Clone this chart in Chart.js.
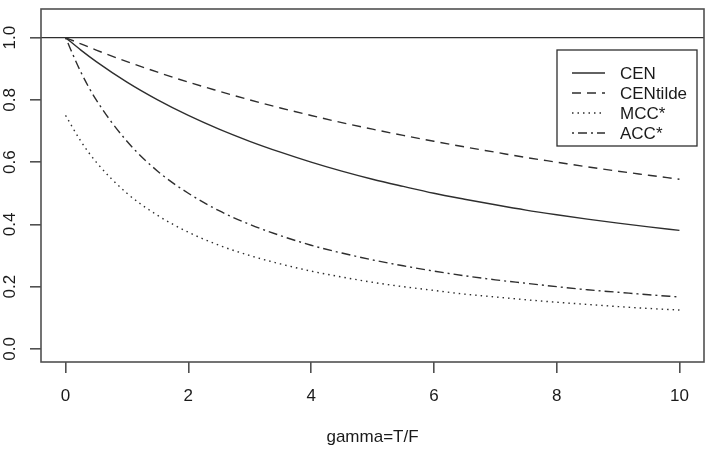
<!DOCTYPE html>
<html>
<head>
<meta charset="utf-8">
<script src="https://cdn.jsdelivr.net/npm/chart.js@4"></script>
<style>
  html, body { margin: 0; padding: 0; background: #fff; }
  #wrap { width: 714px; height: 454px; }
</style>
</head>
<body>
<div id="wrap"><canvas id="chart" width="714" height="454"></canvas></div>
<script>
// values
const gamma     = [0, 0.25, 0.5, 1, 1.5, 2, 2.5, 3, 3.5, 4, 4.5, 5, 5.5, 6, 6.5, 7, 7.5, 8, 8.5, 9, 9.5, 10];
const cen       = [1, 0.96, 0.923, 0.857, 0.8, 0.75, 0.706, 0.667, 0.632, 0.6, 0.571, 0.545, 0.522, 0.5, 0.481, 0.463, 0.446, 0.431, 0.417, 0.404, 0.392, 0.381];
const cenTilde  = [1, 0.98, 0.96, 0.923, 0.889, 0.857, 0.828, 0.8, 0.774, 0.75, 0.727, 0.706, 0.686, 0.667, 0.649, 0.632, 0.615, 0.6, 0.585, 0.571, 0.558, 0.545];
const mccStar   = [0.75, 0.667, 0.6, 0.5, 0.429, 0.375, 0.333, 0.3, 0.273, 0.25, 0.231, 0.214, 0.2, 0.188, 0.176, 0.167, 0.158, 0.15, 0.143, 0.136, 0.13, 0.125];
const accStar   = [1, 0.889, 0.8, 0.667, 0.571, 0.5, 0.444, 0.4, 0.364, 0.333, 0.308, 0.286, 0.267, 0.25, 0.235, 0.222, 0.211, 0.2, 0.19, 0.182, 0.174, 0.167];
const xTicks    = [0, 2, 4, 6, 8, 10];
const yTicks    = [0, 0.2, 0.4, 0.6, 0.8, 1.0];
const refLine   = 1;

const FONT = '"Liberation Sans", Arial, Helvetica, sans-serif';
const INK = '#2e2e2e';
const AXIS = '#505050';
const TEXT = '#1a1a1a';

function pts(ys) {
    return gamma.map((g, i) => ({ x: g, y: ys[i] }));
}

function series(label, ys, dash) {
    return {
        label: label,
        data: pts(ys),
        borderColor: INK,
        borderWidth: 1.4,
        borderDash: dash,
        pointRadius: 0,
        fill: false,
        cubicInterpolationMode: 'monotone'
    };
}

// box, abline at y=1, rotated y labels and the legend, R style
const rPlot = {
    id: 'rPlot',
    afterDatasetsDraw(chart) {
        const ctx = chart.ctx;
        const a = chart.chartArea;
        const ys = chart.scales.y;

        ctx.save();
        // horizontal reference line
        const yl = ys.getPixelForValue(refLine);
        ctx.strokeStyle = INK;
        ctx.lineWidth = 1.4;
        ctx.beginPath();
        ctx.moveTo(a.left, yl);
        ctx.lineTo(a.right, yl);
        ctx.stroke();

        // plot box
        ctx.strokeStyle = AXIS;
        ctx.lineWidth = 1.6;
        ctx.strokeRect(a.left, a.top, a.right - a.left, a.bottom - a.top);

        // y tick labels, rotated like R's las=0
        ctx.fillStyle = TEXT;
        ctx.font = '17px ' + FONT;
        ctx.textAlign = 'center';
        ctx.textBaseline = 'middle';
        yTicks.forEach(v => {
            const y = ys.getPixelForValue(v);
            ctx.save();
            ctx.translate(10, y);
            ctx.rotate(-Math.PI / 2);
            ctx.fillText(v.toFixed(1), 0, 0);
            ctx.restore();
        });

        // legend
        const lx = 557, ly = 50, lw = 140, lh = 96;
        ctx.fillStyle = '#fff';
        ctx.fillRect(lx, ly, lw, lh);
        ctx.strokeStyle = INK;
        ctx.lineWidth = 1.3;
        ctx.strokeRect(lx, ly, lw, lh);
        ctx.textAlign = 'left';
        ctx.fillStyle = TEXT;
        chart.data.datasets.forEach((ds, i) => {
            const y = ly + 23 + i * 20;
            ctx.setLineDash(ds.borderDash || []);
            ctx.beginPath();
            ctx.moveTo(572, y);
            ctx.lineTo(605, y);
            ctx.stroke();
            ctx.setLineDash([]);
            ctx.fillText(ds.label, 620, y + 1);
        });
        ctx.restore();
    }
};

new Chart(document.getElementById('chart'), {
    type: 'line',
    data: {
        datasets: [
            series('CEN', cen, []),
            series('CENtilde', cenTilde, [9, 6]),
            series('MCC*', mccStar, [1.5, 4]),
            series('ACC*', accStar, [2, 4, 9, 4])
        ]
    },
    options: {
        responsive: false,
        animation: false,
        layout: { padding: { top: 9, right: 10, left: 0, bottom: 0 } },
        plugins: { legend: { display: false }, tooltip: { enabled: false } },
        scales: {
            x: {
                type: 'linear',
                min: -0.4,
                max: 10.4,
                afterBuildTicks: s => { s.ticks = xTicks.map(v => ({ value: v })); },
                afterFit: s => { s.height = 92; },
                grid: { display: true, drawOnChartArea: false, drawTicks: true, tickLength: 11, color: AXIS, lineWidth: 1.6 },
                border: { display: false },
                ticks: { color: TEXT, font: { family: FONT, size: 17 }, padding: 13, maxRotation: 0, autoSkip: false },
                title: { display: true, text: 'gamma=T/F', color: TEXT, font: { family: FONT, size: 17 }, padding: { top: 0, bottom: 6 } }
            },
            y: {
                type: 'linear',
                min: -0.042,
                max: 1.092,
                afterBuildTicks: s => { s.ticks = yTicks.map(v => ({ value: v })); },
                afterFit: s => { s.width = 41; },
                grid: { display: true, drawOnChartArea: false, drawTicks: true, tickLength: 11, color: AXIS, lineWidth: 1.6 },
                border: { display: false },
                ticks: { display: false }
            }
        }
    },
    plugins: [rPlot]
});
</script>
</body>
</html>
